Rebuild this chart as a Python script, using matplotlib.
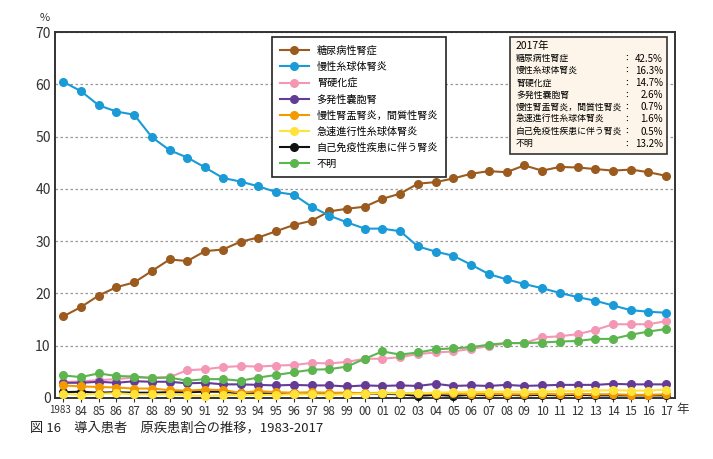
import matplotlib
matplotlib.use('Agg')
import matplotlib.pyplot as plt
from matplotlib.patches import Rectangle
from matplotlib.transforms import ScaledTranslation

plt.rcParams['font.family'] = ['Noto Sans CJK JP', 'DejaVu Sans']

years = list(range(1983, 2018))
year_labels = ['1983'] + ['%02d' % (y % 100) for y in years[1:]]

names = ['糖尿病性腎症', '慢性糸球体腎炎', '腎硬化症', '多発性嚢胞腎',
         '慢性腎盂腎炎，間質性腎炎', '急速進行性糸球体腎炎',
         '自己免疫性疾患に伴う腎炎', '不明']
colors = ['#9b5a1e', '#1a9bd7', '#f497b4', '#643c98',
          '#f39a00', '#ffe23a', '#111111', '#5cb54e']

diabetic = [15.6, 17.4, 19.6, 21.2, 22.1, 24.3, 26.5, 26.2, 28.1, 28.4,
            29.9, 30.7, 31.9, 33.1, 33.9, 35.7, 36.2, 36.6, 38.1, 39.1,
            41.0, 41.3, 42.0, 42.9, 43.4, 43.2, 44.5, 43.5, 44.2, 44.1,
            43.8, 43.5, 43.7, 43.2, 42.5]
chronic_gn = [60.5, 58.7, 56.0, 54.8, 54.2, 49.9, 47.4, 46.0, 44.1, 42.1,
              41.4, 40.5, 39.4, 38.9, 36.6, 34.9, 33.6, 32.4, 32.4, 31.9,
              29.0, 28.0, 27.2, 25.5, 23.7, 22.7, 21.8, 21.0, 20.1, 19.3,
              18.6, 17.7, 16.8, 16.5, 16.3]
nephrosclerosis = [3.0, 3.2, 3.4, 3.6, 3.9, 3.9, 4.0, 5.3, 5.5, 5.9,
                   6.1, 6.0, 6.2, 6.3, 6.7, 6.6, 6.9, 7.5, 7.5, 7.8,
                   8.4, 8.7, 8.9, 9.4, 9.9, 10.5, 10.5, 11.6, 11.8, 12.2,
                   13.0, 14.1, 14.1, 14.1, 14.7]
polycystic = [2.9, 2.9, 3.1, 2.9, 3.2, 3.1, 3.1, 2.8, 2.9, 2.6,
              2.6, 2.5, 2.4, 2.5, 2.4, 2.4, 2.2, 2.4, 2.3, 2.4,
              2.3, 2.7, 2.3, 2.4, 2.3, 2.5, 2.3, 2.4, 2.5, 2.5,
              2.5, 2.7, 2.6, 2.6, 2.6]
pyelonephritis = [2.4, 2.2, 2.1, 2.0, 1.8, 1.8, 1.5, 1.4, 1.6, 1.5,
                  1.0, 1.3, 1.1, 1.0, 1.1, 1.0, 1.0, 0.9, 1.0, 0.9,
                  0.9, 0.8, 0.9, 0.7, 0.8, 0.7, 0.7, 0.8, 0.7, 0.8,
                  0.7, 0.7, 0.6, 0.6, 0.7]
rpgn = [0.8, 0.6, 0.8, 0.9, 0.7, 0.7, 0.7, 0.5, 0.4, 0.5,
        0.6, 0.6, 0.6, 0.7, 0.7, 0.6, 0.7, 0.8, 0.9, 0.9,
        0.9, 1.0, 1.1, 1.1, 1.2, 1.2, 1.2, 1.2, 1.3, 1.3,
        1.4, 1.5, 1.4, 1.4, 1.6]
autoimmune = [1.1, 1.2, 1.0, 1.1, 1.0, 1.0, 1.1, 1.1, 1.2, 1.2,
              0.9, 0.9, 0.8, 1.0, 0.8, 0.8, 0.8, 0.8, 0.8, 0.7,
              0.4, 0.6, 0.4, 0.6, 0.5, 0.6, 0.5, 0.6, 0.5, 0.6,
              0.5, 0.5, 0.5, 0.5, 0.5]
unknown = [4.3, 4.0, 4.7, 4.2, 4.1, 3.8, 3.9, 3.3, 3.6, 3.6,
           3.3, 3.9, 4.4, 4.9, 5.4, 5.5, 6.0, 7.5, 8.9, 8.3,
           8.7, 9.3, 9.5, 9.7, 10.2, 10.5, 10.5, 10.6, 10.8, 10.9,
           11.3, 11.3, 12.1, 12.7, 13.2]

series = [diabetic, chronic_gn, nephrosclerosis, polycystic,
          pyelonephritis, rpgn, autoimmune, unknown]

box_title = '2017年'
box_values = ['42.5%', '16.3%', '14.7%', '2.6%', '0.7%', '1.6%', '0.5%', '13.2%']

fig = plt.figure(figsize=(7.13, 4.59), dpi=100)
ax = fig.add_axes([0.077, 0.133, 0.870, 0.797])

zorders = [4, 5, 3, 3, 3, 3, 2, 3]
for vals, name, c, z in zip(series, names, colors, zorders):
    ax.plot(years, vals, color=c, lw=1.5, marker='o', markersize=5.5,
            label=name, zorder=z, clip_on=False)

ax.set_xlim(1982.53, 2017.51)
ax.set_ylim(0, 70)
ax.set_yticks(range(0, 71, 10))
ax.set_xticks(years)
ax.set_xticklabels(year_labels, fontsize=8.3, color='#333333')
ax.tick_params(axis='x', length=3, direction='out', pad=2, color='#333333')
ax.tick_params(axis='y', labelsize=10, length=0, pad=3, labelcolor='#333333')
# first label is squeezed against the next one in the original
first = ax.get_xticklabels()[0]
first.set_fontsize(7)
first.set_transform(first.get_transform() + ScaledTranslation(-2 / 72, 0, fig.dpi_scale_trans))
ax.grid(axis='y', linestyle=(0, (2, 2)), color='#999999', lw=0.9)
ax.set_axisbelow(True)
for sp in ax.spines.values():
    sp.set_color('#333333')
    sp.set_linewidth(1.4)

leg = ax.legend(loc='upper left', bbox_to_anchor=(0.35, 0.986), fontsize=7.3,
                handlelength=2.8, labelspacing=0.6, borderpad=0.8,
                handletextpad=0.8, borderaxespad=0, fancybox=False, framealpha=1)
leg.get_frame().set_edgecolor('#222222')
leg.get_frame().set_linewidth(1.2)
leg.set_zorder(10)

# 2017 info box
x0, x1 = 510, 667
y0, y1 = 37, 154
W, H = 713, 459
fig.patches.append(Rectangle((x0 / W, 1 - y1 / H), (x1 - x0) / W, (y1 - y0) / H,
                             transform=fig.transFigure, facecolor='#fdf5e9',
                             edgecolor='#333333', lw=1.2, zorder=10))
fig.text(516 / W, 1 - 46 / H, box_title, fontsize=7.5, va='center', zorder=11)
for i, (n, v) in enumerate(zip(names, box_values)):
    ypos = 1 - (58.5 + i * 12.2) / H
    fig.text(516 / W, ypos, n, fontsize=6.4, va='center', zorder=11)
    fig.text(622 / W, ypos, '：', fontsize=6.4, va='center', zorder=11)
    fig.text(663 / W, ypos, v, fontsize=7, va='center', ha='right', zorder=11)

fig.text(40 / W, 1 - 18 / H, '%', fontsize=8, va='center', color='#333333')
fig.text(676 / W, 1 - 410 / H, '年', fontsize=9, va='center', color='#333333')
fig.text(30 / W, 1 - 428 / H, '図 16　導入患者　原疾患割合の推移，1983-2017',
         fontsize=9.5, va='center', color='#222222')

fig.savefig('out.png', dpi=100)
